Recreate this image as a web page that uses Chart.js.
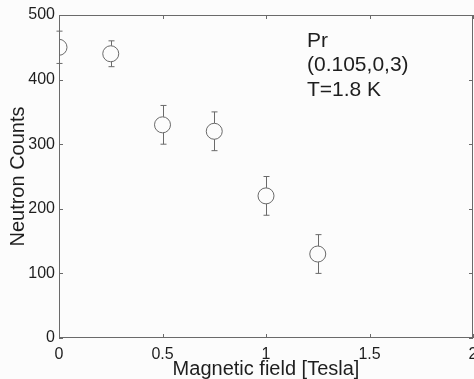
<!DOCTYPE html>
<html>
<head>
<meta charset="utf-8">
<script src="https://cdn.jsdelivr.net/npm/chart.js@4/dist/chart.umd.min.js"></script>
<style>
  html, body { margin: 0; padding: 0; background: #fcfcfc; }
  #wrap { width: 474px; height: 379px; }
</style>
</head>
<body>
<div id="wrap"><canvas id="chart"></canvas></div>
<script>
// field values [Tesla] and neutron counts
const fields = [0, 0.25, 0.5, 0.75, 1.0, 1.25];
const counts = [450, 440, 330, 320, 220, 130];
const errors = [25, 20, 30, 30, 30, 30];
const xTicks = [0, 0.5, 1, 1.5, 2];
const yTicks = [0, 100, 200, 300, 400, 500];
const notes = ['Pr', '(0.105,0,3)', 'T=1.8 K'];

const lineColor = '#6a6a6a';
const textColor = '#1e1e1e';
const fontFamily = '"Liberation Sans", Arial, sans-serif';

// matlab-style box with inward ticks + error bars
const framePlugin = {
  id: 'frame',
  beforeDraw(chart) {
    const { ctx } = chart;
    ctx.save();
    ctx.fillStyle = '#fcfcfc';
    ctx.fillRect(0, 0, chart.width, chart.height);
    ctx.restore();
  },
  afterDatasetsDraw(chart) {
    const { ctx, chartArea: a, scales: { x, y } } = chart;
    ctx.save();
    ctx.strokeStyle = lineColor;
    ctx.lineWidth = 1;
    ctx.strokeRect(a.left + 0.5, a.top + 0.5, a.right - a.left - 1, a.bottom - a.top - 1);

    ctx.beginPath();
    xTicks.forEach(v => {
      const px = Math.round(x.getPixelForValue(v)) + 0.5;
      ctx.moveTo(px, a.bottom); ctx.lineTo(px, a.bottom - 4);
      ctx.moveTo(px, a.top); ctx.lineTo(px, a.top + 4);
    });
    yTicks.forEach(v => {
      const py = Math.round(y.getPixelForValue(v)) + 0.5;
      ctx.moveTo(a.left, py); ctx.lineTo(a.left + 4, py);
      ctx.moveTo(a.right, py); ctx.lineTo(a.right - 4, py);
    });
    ctx.stroke();

    // error bars
    ctx.beginPath();
    fields.forEach((f, i) => {
      const px = Math.round(x.getPixelForValue(f)) + 0.5;
      const top = y.getPixelForValue(counts[i] + errors[i]);
      const bot = y.getPixelForValue(counts[i] - errors[i]);
      const c = y.getPixelForValue(counts[i]);
      ctx.moveTo(px, top); ctx.lineTo(px, c - 8);
      ctx.moveTo(px, c + 8); ctx.lineTo(px, bot);
      ctx.moveTo(px - 3, top); ctx.lineTo(px + 3, top);
      ctx.moveTo(px - 3, bot); ctx.lineTo(px + 3, bot);
    });
    ctx.stroke();

    // annotation text
    ctx.fillStyle = textColor;
    ctx.font = '21px ' + fontFamily;
    ctx.textBaseline = 'middle';
    notes.forEach((t, i) => ctx.fillText(t, 307, 41 + i * 24.5));
    ctx.restore();
  }
};

const ctx = document.getElementById('chart');
new Chart(ctx, {
  type: 'scatter',
  data: {
    datasets: [{
      data: fields.map((f, i) => ({ x: f, y: counts[i] })),
      pointStyle: 'circle',
      pointRadius: 8,
      pointHoverRadius: 8,
      borderColor: lineColor,
      borderWidth: 1,
      backgroundColor: 'rgba(0,0,0,0)',
      showLine: false
    }]
  },
  options: {
    responsive: true,
    maintainAspectRatio: false,
    animation: false,
    layout: { autoPadding: false, padding: { top: 15, right: 1, left: 0, bottom: 0 } },
    plugins: { legend: { display: false }, tooltip: { enabled: false } },
    scales: {
      x: {
        type: 'linear',
        min: 0, max: 2,
        afterBuildTicks: s => { s.ticks = xTicks.map(v => ({ value: v })); },
        afterFit: s => { s.height = 41; s.paddingLeft = 0; s.paddingRight = 0; },
        grid: { display: false, drawTicks: false },
        border: { display: false },
        ticks: {
          color: textColor, padding: 7,
          font: { family: fontFamily, size: 16 },
          maxRotation: 0,
          callback: v => String(v)
        },
        title: {
          display: true, text: 'Magnetic field [Tesla]', color: textColor,
          font: { family: fontFamily, size: 20 },
          padding: { top: 0, bottom: -2 }
        }
      },
      y: {
        type: 'linear',
        min: 0, max: 500,
        afterBuildTicks: s => { s.ticks = yTicks.map(v => ({ value: v })); },
        afterFit: s => { s.width = 59; s.paddingTop = 0; s.paddingBottom = 0; },
        grid: { display: false, drawTicks: false },
        border: { display: false },
        ticks: {
          color: textColor, padding: 4,
          font: { family: fontFamily, size: 16 },
          callback: v => String(v)
        },
        title: {
          display: true, text: 'Neutron Counts', color: textColor,
          font: { family: fontFamily, size: 20 },
          padding: { top: 6, bottom: 0 }
        }
      }
    }
  },
  plugins: [framePlugin]
});
</script>
</body>
</html>
